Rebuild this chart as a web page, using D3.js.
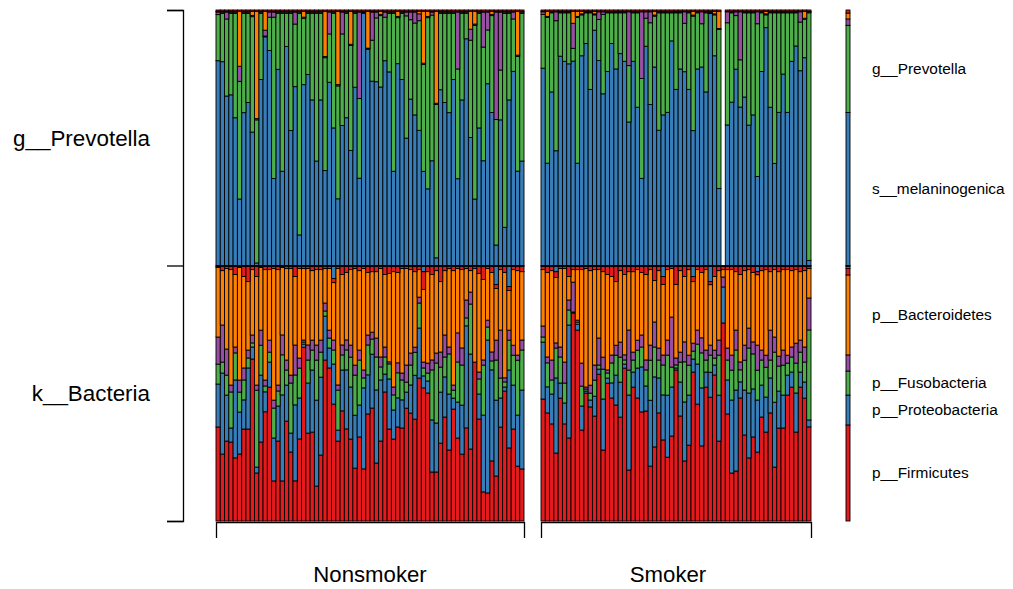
<!DOCTYPE html>
<html>
<head>
<meta charset="utf-8">
<script src="https://cdn.jsdelivr.net/npm/d3@7"></script>
<style>
  body { margin: 0; background: #fff; }
  text { font-family: "Liberation Sans", Arial, Helvetica, sans-serif; fill: #000; }
</style>
</head>
<body>
<svg id="chart" width="1013" height="589"></svg>
<script>
// ---- Groups and levels ------------------------------------------------------
const groups = ["Nonsmoker", "Smoker"];
const groupSizes = [72, 63];
const levelLabels = ["g__Prevotella", "k__Bacteria"];

// ---- Genus level (within g__Prevotella), % per sample: 72 nonsmokers then 63 smokers
const sMelaninogenica = [
  80,80,66,67,58,26,60,64,52,1, 73,89.5,84,34,77,37,86,53,70,12, 71,75,65,41,65,37,72,54,26,55,
  58,45,70,34,99,85,72,72,70,80, 76,37,79,73,50,65,59,53,37,30, 41,3,69,64,60,73,34,65,89,50,
  26,54,41,71,60,8,57,15,65,76, 37,41,
  77,40,68,45,82,80,79,80,40,82, 87,69,92,80,67,76,87,77,83,80, 56,80,62,34,86,63,78,53,59,60,
  88,69,77,76,69,53,77,78,68,99, 82,30,0,55,64,77,62,66,55,59, 35,76,93,62,40,60,75,60,80,86,
  76,81,2
];
const gPrevotella = [
  18,19,30,32,41,46,39,35,45,56, 26,0.3,13,63,22,62,13,46,24.5,87, 26,24,34,58,34,44,19,45,44,36,
  41,41,29,31,0.2,0.2,16,25,28,17, 23,62,18,26,48,31,36,43,42,67, 57,60,30,35,39,26,43,34,10,38,
  68,45,44.5,21,38,49,19.5,84,34,20.5, 45,58,
  21,57,31,51,17,19,20,5,57,16, 12,30,6,16,31,23,12,22,16,19, 22,19,37,39,11,32,20,46,40,39,
  11,30,22,19,30,45,22,17,31,0.3, 16,62,0,40,35,21,18.5,33,44,40, 60,23,5,37,59,39,24,39,19,13,
  19,15,97
];
const sNanceiensis = [
  1,0.5,2.7,0.5,0.5,5.9,0.5,0.5,0.5,0.5, 0.5,2.3,2,2,0.5,0.5,0.5,0.5,4.7,0.5, 0.5,0.5,0.5,0.5,0.5,0.5,8.6,0.5,0.5,8.6,
  0.5,0.5,0.5,33.7,0.3,0.3,11,2.3,0.5,2, 0.5,0.5,0.5,0.5,1.5,3,4.3,2.7,0.5,0.5, 1.2,0.5,0.5,0.5,0.5,0.5,22.3,0.5,0.5,4.3,
  0.5,0.5,13.7,7,0.5,42,22.7,0.5,0.5,2.7, 0.5,0.5,
  1,0.4,0.4,3.5,0.4,0.4,0.4,9.8,0.4,0.4, 0.4,0.4,0.4,3,1,0.4,0.4,0.4,0.4,0.4, 21,0.4,0.4,26,2.5,4.3,0.4,0.4,0.4,0.4,
  0.4,0.4,0.4,4.5,0.4,0.4,0.4,4.7,0.4,0.4, 0.4,0.4,0,4.3,0.4,1.5,18.8,0.4,0.4,0.4, 4.7,0.4,0.4,0.4,0.4,0.4,0.4,0.4,0.4,0.4,
  4,0.4,0.4
];
const sPallens = [
  0.3,0.3,0.3,0.3,0.3,21.5,0.3,0.3,1.6,42, 0.3,7.4,0.3,0.3,0.3,0.3,0.3,0.3,0.3,0.3, 2.3,0.3,0.3,0.3,0.3,17.6,0.3,0.3,28.6,0.3,
  0.3,12.9,0.3,0.3,0.3,14.5,0.3,0.3,1.2,0.3, 0.3,0.3,2,0.3,0.3,0.3,0.3,1,20.4,2, 0.3,36,0.3,0.3,0.3,0.3,0.3,0.3,0.3,7,
  5,0.3,0.3,0.3,1.2,0.3,0.3,0.3,0.3,0.3, 17.2,0.3,
  0.2,2,0.2,0.2,0.2,0.2,0.2,4.7,2,1, 0.2,0.2,1,0.2,0.2,0.2,0.2,0.2,0.2,0.2, 0.2,0.2,0.2,0.2,0.2,0.2,1.5,0.2,0.2,0.2,
  0.2,0.2,0.2,0.2,0.2,1.5,0.2,0.2,0.2,0.2, 1,6.7,0,0.2,0.2,0.2,0.2,0.2,0.2,0.2, 0.2,0.2,1,0.2,0.2,0.2,0.2,0.2,0.2,0.2,
  0.2,2.7,0.2
];
const otherPrevotella = [
  0.5,0.5,0.5,0.5,0.5,0.5,0.5,0.5,0.5,0.5, 0.5,0.5,0.5,0.5,0.5,0.5,0.5,0.5,0.5,0.5, 0.5,0.5,0.5,0.5,0.5,0.5,0.5,0.5,0.5,0.5,
  0.5,0.5,0.5,0.5,0.5,0.5,0.5,0.5,0.5,0.5, 0.5,0.5,0.5,0.5,0.5,0.5,0.5,0.5,0.5,0.5, 0.5,0.5,0.5,0.5,0.5,0.5,0.5,0.5,0.5,0.5,
  0.5,0.5,0.5,0.5,0.5,0.5,0.5,0.5,0.5,0.5, 0.5,0.5,
  0.5,0.5,0.5,0.5,0.5,0.5,0.5,0.5,0.5,0.5, 0.5,0.5,0.5,0.5,0.5,0.5,0.5,0.5,0.5,0.5, 0.5,0.5,0.5,0.5,0.5,0.5,0.5,0.5,0.5,0.5,
  0.5,0.5,0.5,0.5,0.5,0.5,0.5,0.5,0.5,0.5, 0.5,0.5,0,0.5,0.5,0.5,0.5,0.5,0.5,0.5, 0.5,0.5,0.5,0.5,0.5,0.5,0.5,0.5,0.5,0.5,
  0.5,0.5,0.5
];

// ---- Phylum level (within k__Bacteria), % per sample
const pFirmicutes = [
  36.8,26.2,31.3,30.9,24.7,26.2,36.0,36.0,63.4,18.8, 30.9,42.7,52.4,15.7,31.3,15.7,39.1,27.0,15.7,32.1,
  68.1,34.4,34.8,13.7,25.8,63.0,59.9,45.8,31.3,43.1, 36.0,32.1,20.7,32.9,20.4,41.9,44.2,22.7,31.3,50.5,
  36.0,32.1,36.8,36.4,44.2,42.3,39.9,56.0,52.1,50.1, 19.2,19.2,30.5,40.7,27.8,43.8,32.5,26.2,36.4,28.2,
  62.2,39.9,11.4,11.0,23.5,17.6,36.8,50.9,28.6,36.0, 21.5,20.4,
  47.8,42.3,38.0,26.6,48.1,38.0,32.5,81.4,74.8,35.6, 50.1,44.6,41.1,57.5,27.8,54.0,48.1,45.4,40.7,59.9,
  20.0,52.4,48.1,42.7,43.1,21.5,29.0,42.3,31.7,25.0, 33.3,59.1,41.1,23.5,29.7,58.3,45.8,29.4,52.4,48.5,
  57.1,31.3,77.5,41.9,18.8,19.6,48.1,33.7,24.7,32.9, 27.0,40.7,34.8,42.3,21.1,36.4,36.4,49.3,52.4,34.8,
  52.4,48.1,36.8
];
const pProteobacteria = [
  16.8,31.7,18.0,5.5,30.5,16.4,11.4,23.9,4.7,2.3, 26.2,7.8,9.8,16.8,13.7,33.7,14.1,7.4,29.7,16.0,
  1.2,19.6,24.3,33.7,30.5,17.2,7.8,15.7,4.3,16.0, 23.1,20.4,20.7,12.5,31.7,15.3,21.1,28.6,23.9,7.0,
  19.6,11.4,11.4,11.0,6.3,11.0,17.2,19.6,4.7,4.7, 20.4,19.2,20.0,15.7,21.9,4.3,14.1,19.2,39.9,37.2,
  0,9.8,30.1,59.9,35.6,29.7,11.4,1.6,30.5,17.2, 20.0,30.9,
  22.3,10.2,11.7,29.4,5.9,8.2,44.2,0.4,2.3,9.4, 0.8,2.7,7.8,2.0,20.0,2.0,5.9,11.7,13.7,1.6,
  29.4,5.9,11.7,17.6,9.8,25.8,27.4,13.7,17.6,24.3, 19.2,0.8,13.3,23.1,19.6,5.1,15.7,22.7,5.9,9.8,
  3.9,18.0,14.1,13.3,28.6,31.7,6.3,17.6,25.4,18.8, 20.4,12.5,13.7,13.7,25.4,14.5,12.9,7.8,5.9,15.3,
  5.9,6.3,2.7
];
const pFusobacteria = [
  7.8,4.3,7.8,14.1,10.6,7.8,7.8,3.9,1.6,30.1, 11.7,2.3,3.9,11.7,5.9,15.7,5.9,19.6,11.7,11.7,
  0.8,9.0,7.8,15.7,9.8,2.0,3.9,5.5,15.7,5.9, 7.8,11.7,15.7,17.6,3.9,11.7,5.9,12.9,5.1,6.7,
  5.9,5.9,9.8,7.8,3.9,7.8,9.0,9.8,3.1,3.1, 19.6,23.5,9.8,7.8,15.7,3.1,15.7,15.7,3.1,19.6,
  0,5.9,19.6,5.1,3.5,15.7,7.8,2.0,11.7,11.7, 21.5,15.7,
  2.0,9.4,5.5,11.7,10.2,7.8,5.9,0,0.8,7.8, 0.8,2.7,6.3,1.6,11.7,2.0,7.8,7.8,9.8,1.6,
  9.8,4.7,7.0,7.8,6.3,15.7,11.7,7.0,11.7,15.7, 7.8,1.2,7.8,15.7,11.7,3.1,7.8,13.7,4.7,6.7,
  2.7,15.7,0,7.8,11.7,15.7,4.7,11.7,17.6,13.7, 11.7,9.8,11.7,7.0,19.6,9.8,11.7,4.7,5.9,11.7,
  7.8,7.8,35.2
];
const pActinobacteria = [
  10.6,14.5,10.2,2.7,2.3,4.7,4.7,3.1,3.1,2.0, 5.9,2.3,4.7,3.1,2.3,7.8,3.9,3.1,11.7,3.9,
  0.8,5.9,3.9,5.9,4.7,3.1,3.1,3.9,2.0,3.9, 3.9,4.7,3.9,3.9,3.1,3.9,2.7,7.4,3.9,3.9,
  0.8,3.1,3.9,2.7,6.7,4.7,2.0,2.3,2.3,3.9, 3.9,3.9,5.9,8.6,2.7,2.0,11.4,6.7,7.0,4.7,
  0,2.7,2.0,2.7,3.5,7.8,18.8,1.6,3.9,3.9, 2.0,3.9,
  4.3,2.3,7.8,2.0,3.9,8.2,3.9,11.7,0.8,9.0, 0.8,3.1,5.9,10.6,4.7,1.2,3.1,3.9,5.9,2.0,
  15.7,3.1,3.9,4.7,3.9,5.9,9.8,4.7,3.9,5.9, 19.6,2.7,3.9,7.8,3.9,3.1,5.5,5.9,3.9,3.9,
  3.1,5.9,3.9,4.7,5.9,7.8,3.1,5.9,7.8,4.7, 9.8,3.9,4.7,11.7,5.9,3.9,5.9,3.1,3.9,7.8,
  4.7,5.9,12.5
];
const pBacteroidetes = [
  27.2,21.3,31.5,45.2,28.4,44.0,35.8,26.8,25.6,42.5, 24.5,43.2,27.6,51.5,45.2,26.4,35.8,41.7,26.8,35.0,
  28.0,29.9,27.2,29.6,27.6,13.5,24.1,22.5,45.6,27.6, 26.4,29.6,37.8,31.1,39.7,24.5,23.7,26.0,34.6,28.4,
  34.6,45.2,35.4,40.9,37.8,32.7,29.6,10.8,28.4,35.8, 33.5,32.3,27.6,25.2,30.7,44.8,25.2,30.7,12.3,8.4,
  36.6,38.6,31.5,20.2,31.1,20.2,23.7,41.3,15.5,29.6, 33.1,26.8,
  22.1,33.1,35.0,25.6,30.7,36.6,9.2,4.9,19.8,36.6, 46.4,44.8,37.4,26.8,33.5,37.4,30.7,24.9,28.0,31.5,
  22.9,31.5,27.6,24.5,33.5,29.6,16.2,30.3,27.6,27.6, 19.0,28.8,31.9,25.6,33.5,24.1,23.7,25.6,31.5,23.7,
  28.8,27.2,2.9,30.7,33.5,22.9,34.2,29.2,22.9,27.2, 27.6,31.1,33.5,22.9,26.4,33.1,31.5,33.5,29.9,28.8,
  26.8,29.9,11.5
];
const pSpirochaetes = [
  0.4,1.6,0.8,1.2,3.1,0.4,3.9,5.9,1.2,3.9, 0.4,1.2,1.2,0.8,1.2,0.4,0.8,0.8,3.9,0.8,
  0.8,0.8,1.6,1.2,1.2,0.8,0.8,1.6,0.8,3.1, 2.3,1.2,0.8,1.6,0.8,2.3,2.0,2.0,0.8,3.1,
  2.7,2.0,2.3,0.8,0.8,1.2,2.0,1.2,7.0,2.0, 3.1,1.6,5.9,1.6,0.8,1.6,0.8,1.2,0.8,1.6,
  0.8,2.7,5.1,0.8,2.3,1.6,1.2,2.3,1.6,1.2, 1.6,2.0,
  1.2,2.3,1.6,2.3,0.8,0.8,3.9,1.2,1.2,1.2, 0.8,1.6,1.2,1.2,2.0,3.1,3.9,5.9,1.6,3.1,
  2.0,2.0,1.2,2.3,3.1,1.2,5.5,1.6,3.1,1.2, 0.8,7.0,1.6,3.9,1.2,2.0,1.2,2.3,1.2,1.2,
  3.9,1.6,1.2,1.2,1.2,2.0,3.1,1.6,1.2,2.3, 1.2,1.6,1.2,2.0,1.2,2.0,1.2,1.2,1.6,1.2,
  2.0,1.6,0.8
];
const pTM7 = [
  0,0,0,0,0,0,0,0,0,0, 0,0,0,0,0,0,0,0,0,0, 0,0,0,0,0,0,0,4.7,0,0,
  0,0,0,0,0,0,0,0,0,0, 0,0,0,0,0,0,0,0,2.0,0, 0,0,0,0,0,0,0,0,0,0,
  0,0,0,0,0,7.0,0,0,7.8,0, 0,0,
  0,0,0,2.0,0,0,0,0,0,0, 0,0,0,0,0,0,0,0,0,0, 0,0,0,0,0,0,0,0,3.9,0,
  0,0,0,0,0,3.9,0,0,0,5.9, 0,0,0,0,0,0,0,0,0,0, 2.0,0,0,0,0,0,0,0,0,0,
  0,0,0
];
const minorPhyla = [
  0.4,0.4,0.4,0.4,0.4,0.4,0.4,0.4,0.4,0.4, 0.4,0.4,0.4,0.4,0.4,0.4,0.4,0.4,0.4,0.4, 0.4,0.4,0.4,0.4,0.4,0.4,0.4,0.4,0.4,0.4,
  0.4,0.4,0.4,0.4,0.4,0.4,0.4,0.4,0.4,0.4, 0.4,0.4,0.4,0.4,0.4,0.4,0.4,0.4,0.4,0.4, 0.4,0.4,0.4,0.4,0.4,0.4,0.4,0.4,0.4,0.4,
  0.4,0.4,0.4,0.4,0.4,0.4,0.4,0.4,0.4,0.4, 0.4,0.4,
  0.4,0.4,0.4,0.4,0.4,0.4,0.4,0.4,0.4,0.4, 0.4,0.4,0.4,0.4,0.4,0.4,0.4,0.4,0.4,0.4, 0.4,0.4,0.4,0.4,0.4,0.4,0.4,0.4,0.4,0.4,
  0.4,0.4,0.4,0.4,0.4,0.4,0.4,0.4,0.4,0.4, 0.4,0.4,0.4,0.4,0.4,0.4,0.4,0.4,0.4,0.4, 0.4,0.4,0.4,0.4,0.4,0.4,0.4,0.4,0.4,0.4,
  0.4,0.4,0.4
];

// ---- Overall composition shown in the side key (bottom-up), %
const keyGenus = [59.9, 34.1, 2.5, 2.3, 1.2];
const keyPhylum = [37.6, 11.7, 9.4, 6.3, 31.3, 2.5, 0.8, 0.4];
const keyGenusLabels = ["s__melaninogenica", "g__Prevotella", "", "", ""];
const keyPhylumLabels = ["p__Firmicutes", "p__Proteobacteria", "p__Fusobacteria", "", "p__Bacteroidetes", "", "", ""];

// ---- Colour sets (ColorBrewer Set1 order)
const red = "#E41A1C", blue = "#377EB8", green = "#4DAF4A", purple = "#984EA3", orange = "#FF7F00";
const genusColors = [blue, green, purple, orange, red];
const phylumColors = [red, blue, green, purple, orange, red, blue, "#555555"];

const genusSeries = [sMelaninogenica, gPrevotella, sNanceiensis, sPallens, otherPrevotella];
const phylumSeries = [pFirmicutes, pProteobacteria, pFusobacteria, pActinobacteria, pBacteroidetes, pSpirochaetes, pTM7, minorPhyla];

// ---- Layout
const svg = d3.select("#chart");
const yTop = 10, yMid = 265.5, yBottom = 521;
const groupRanges = [[216, 524], [541, 811]];
const groupLabelX = [370, 668];

// sample ids per group
const sampleIds = [];
groups.forEach((grp, gi) => {
  for (let k = 0; k < groupSizes[gi]; k++) sampleIds.push({ group: gi, local: k });
});

const xScales = groupRanges.map((r, gi) =>
  d3.scaleBand().domain(d3.range(groupSizes[gi])).range(r).paddingInner(0).paddingOuter(0));

const yGenus = d3.scaleLinear().domain([0, 1]).range([yMid, yTop]);
const yPhylum = d3.scaleLinear().domain([0, 1]).range([yBottom, yMid]);

function drawLevel(series, colors, yScale) {
  const keys = d3.range(series.length);
  const rows = sampleIds.map((s, i) => {
    const row = { group: s.group, local: s.local };
    keys.forEach(k => { row[k] = series[k][i]; });
    return row;
  });
  const stacked = d3.stack().keys(keys).offset(d3.stackOffsetExpand)(rows);
  const layer = svg.append("g");
  stacked.forEach((ser, k) => {
    layer.append("g")
      .attr("fill", colors[k])
      .selectAll("rect")
      .data(ser.filter(d => d[1] - d[0] > 0))
      .join("rect")
      .attr("x", d => xScales[d.data.group](d.data.local))
      .attr("width", d => xScales[d.data.group].bandwidth())
      .attr("y", d => yScale(d[1]))
      .attr("height", d => yScale(d[0]) - yScale(d[1]))
      .attr("stroke", "#000")
      .attr("stroke-width", 0.9);
  });
}

drawLevel(genusSeries, genusColors, yGenus);
drawLevel(phylumSeries, phylumColors, yPhylum);

// ---- Level bracket on the left
const yLevels = d3.scaleLinear().domain([0, 1]).range([yBottom, yTop]);
svg.append("g")
  .attr("transform", "translate(183,0)")
  .style("color", "#000")
  .call(d3.axisLeft(yLevels).tickValues([0, 0.5, 1]).tickSize(16).tickSizeOuter(16).tickFormat(""))
  .call(g => g.selectAll("path,line").attr("stroke-width", 1.3));

svg.append("g").selectAll("text")
  .data(levelLabels)
  .join("text")
  .attr("x", 150)
  .attr("y", (d, i) => i === 0 ? (yTop + yMid) / 2 : (yMid + yBottom) / 2)
  .attr("dy", "0.35em")
  .attr("text-anchor", "end")
  .style("font-size", "22.4px")
  .text(d => d);

// ---- Group brackets underneath
groups.forEach((grp, gi) => {
  const gx = d3.scaleLinear().domain([0, 1]).range(groupRanges[gi]);
  svg.append("g")
    .attr("transform", `translate(0,${yBottom + 1})`)
    .style("color", "#000")
    .call(d3.axisBottom(gx).tickValues([]).tickSizeOuter(16))
    .call(g => g.select("path").attr("stroke-width", 1.3));
  svg.append("text")
    .attr("x", groupLabelX[gi])
    .attr("y", 582)
    .attr("text-anchor", "middle")
    .style("font-size", "22.2px")
    .text(grp);
});

// ---- Side key: overall composition bar with labels
const keyX = 846, keyW = 4;
function drawKey(values, colors, labels, yScale) {
  const total = d3.sum(values);
  let acc = 0;
  const segs = values.map((v, i) => {
    const s = { i, y0: acc / total, y1: (acc + v) / total };
    acc += v;
    return s;
  });
  svg.append("g").selectAll("rect")
    .data(segs)
    .join("rect")
    .attr("x", keyX)
    .attr("width", keyW)
    .attr("y", d => yScale(d.y1))
    .attr("height", d => yScale(d.y0) - yScale(d.y1))
    .attr("fill", d => colors[d.i])
    .attr("stroke", "#000")
    .attr("stroke-width", 0.9);
  svg.append("g").selectAll("text")
    .data(segs.filter(d => labels[d.i]))
    .join("text")
    .attr("x", 872)
    .attr("y", d => yScale((d.y0 + d.y1) / 2))
    .attr("dy", "0.35em")
    .style("font-size", "15.4px")
    .text(d => labels[d.i]);
}
drawKey(keyGenus, genusColors, keyGenusLabels, yGenus);
drawKey(keyPhylum, phylumColors, keyPhylumLabels, yPhylum);
</script>
</body>
</html>
